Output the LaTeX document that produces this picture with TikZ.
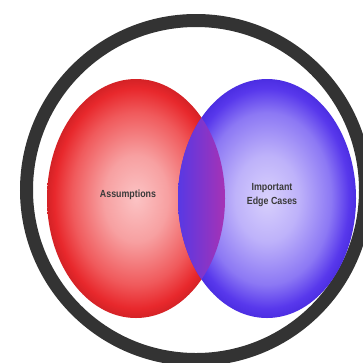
\documentclass[tikz,border=0pt]{standalone}
\usepackage{fontspec}
\setmainfont{Liberation Sans}
\usepackage{graphicx}

% colours of the two sets, the overlap and the frame
\definecolor{redC}{RGB}{251,195,196}
\definecolor{redM}{RGB}{247,160,161}
\definecolor{redO}{RGB}{240,90,92}
\definecolor{redR}{RGB}{232,40,44}
\definecolor{redE}{RGB}{212,34,38}
\definecolor{bluC}{RGB}{216,208,252}
\definecolor{bluM}{RGB}{190,178,250}
\definecolor{bluO}{RGB}{140,120,244}
\definecolor{bluR}{RGB}{88,56,236}
\definecolor{bluE}{RGB}{76,46,226}
\definecolor{lensL}{RGB}{88,56,228}
\definecolor{lensM}{RGB}{122,52,204}
\definecolor{lensR}{RGB}{168,50,180}
\definecolor{frame}{RGB}{51,51,51}
\definecolor{labeltext}{RGB}{58,58,58}

\pgfdeclareradialshading{redball}{\pgfpoint{0bp}{0bp}}{%
  color(0bp)=(redC); color(9bp)=(redM); color(18bp)=(redO);
  color(23bp)=(redR); color(25bp)=(redE); color(50bp)=(redE)}
\pgfdeclareradialshading{blueball}{\pgfpoint{0bp}{0bp}}{%
  color(0bp)=(bluC); color(9bp)=(bluM); color(18bp)=(bluO);
  color(23bp)=(bluR); color(25bp)=(bluE); color(50bp)=(bluE)}

\tikzset{
  setlabel/.style={inner sep=0pt, text=labeltext,
    font=\fontsize{10.3}{14.5}\selectfont\bfseries},
}

\begin{document}
\begin{tikzpicture}[x=1pt,y=-1pt]
  \useasboundingbox (0,0) rectangle (363,362);
  \fill[white] (0,0) rectangle (363,362);

  % outer frame
  \draw[frame, line width=13pt] (196,190) circle [radius=169.5pt];

  % the two sets
  \shade[shading=redball] (136,198.5) ellipse [x radius=89pt, y radius=119.5pt];
  \shade[shading=blueball] (267,198.5) ellipse [x radius=89pt, y radius=119.5pt];

  % overlap of the sets
  \begin{scope}
    \clip (136,198.5) ellipse [x radius=89pt, y radius=119.5pt];
    \clip (267,198.5) ellipse [x radius=89pt, y radius=119.5pt];
    \shade[left color=lensL, middle color=lensM, right color=lensR]
      (178,79) rectangle (226,318);
  \end{scope}

  % labels
  \node[setlabel] (assumptions) at (128,194.1)
    {\scalebox{0.86}[1]{\begin{tabular}{@{}c@{}}Assumptions\end{tabular}}};
  \node[setlabel] (edgecases) at (272,194.4)
    {\scalebox{0.86}[1]{\begin{tabular}{@{}c@{}}Important\\Edge Cases\end{tabular}}};
\end{tikzpicture}
\end{document}
